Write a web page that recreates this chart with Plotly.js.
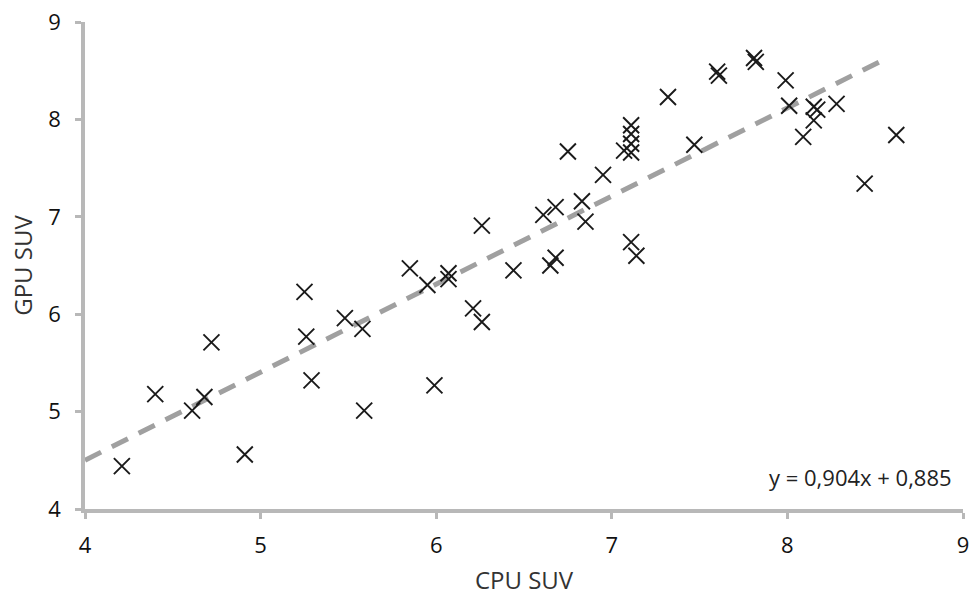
<!DOCTYPE html>
<html>
<head>
<meta charset="utf-8">
<script src="https://cdn.plot.ly/plotly-3.0.1.min.js"></script>
<style>html,body{margin:0;padding:0;background:#fff;}#chart{width:970px;height:596px;}</style>
</head>
<body>
<div id="chart"></div>
<script>
// CPU SUV vs GPU SUV measurements
const cpuSUV = [4.21,4.40,4.61,4.68,4.72,4.91,5.25,5.26,5.29,5.48,5.58,5.59,5.85,5.95,5.99,6.07,6.07,6.21,6.26,6.26,6.44,6.61,6.68,6.83,6.85,6.65,6.68,7.11,7.14,7.32,7.60,7.61,7.81,7.82,7.99,8.01,8.15,8.17,8.15,8.28,8.09,8.62,8.44,7.11,7.11,7.11,7.07,7.11,6.95,7.47,6.75];
const gpuSUV = [4.44,5.18,5.01,5.15,5.71,4.56,6.23,5.77,5.32,5.96,5.85,5.01,6.47,6.30,5.27,6.42,6.36,6.06,5.92,6.91,6.45,7.02,7.10,7.16,6.95,6.50,6.58,6.74,6.60,8.23,8.49,8.45,8.63,8.59,8.40,8.14,8.13,8.10,7.99,8.16,7.82,7.84,7.34,7.94,7.85,7.75,7.68,7.66,7.43,7.74,7.67];
// Linear fit shown on chart
const slope = 0.904;
const intercept = 0.885;
const trendX = [4, 8.53];
const trendY = trendX.map(v => slope * v + intercept);
const tickVals = [4,5,6,7,8,9];
const equationLabel = 'y = 0,904x + 0,885';

const axisColor = '#b8b8b8';
const font = "'Open Sans', 'Noto Sans', sans-serif";

Plotly.newPlot('chart', [
  {x: trendX, y: trendY, mode: 'lines', type: 'scatter',
   line: {color: '#a0a0a0', width: 5, dash: '18px,12px'}, hoverinfo: 'skip'},
  {x: cpuSUV, y: gpuSUV, mode: 'markers', type: 'scatter',
   marker: {symbol: 'x-thin', size: 16, color: '#1a1a1a', line: {color: '#1a1a1a', width: 1.9}}}
], {
  width: 970, height: 596,
  margin: {l: 85, r: 7, t: 22, b: 87},
  paper_bgcolor: '#fff', plot_bgcolor: '#fff',
  showlegend: false,
  font: {family: font, color: '#333'},
  xaxis: {range: [4, 9], tickvals: tickVals, showgrid: false, zeroline: false,
    showline: true, linecolor: axisColor, linewidth: 3.5,
    ticks: 'outside', ticklen: 6, tickwidth: 2.5, tickcolor: axisColor,
    ticklabelstandoff: 8,
    tickfont: {size: 22, color: '#111'},
    title: {text: 'CPU SUV', font: {size: 24, color: '#333'}, standoff: 18}},
  yaxis: {range: [4, 9], tickvals: tickVals, showgrid: false, zeroline: false,
    showline: true, linecolor: axisColor, linewidth: 3.5,
    ticks: 'outside', ticklen: 6, tickwidth: 2.5, tickcolor: axisColor,
    ticklabelstandoff: 10,
    tickfont: {size: 22, color: '#111'},
    title: {text: 'GPU SUV', font: {size: 24, color: '#333'}, standoff: 10}},
  annotations: [{text: equationLabel, xref: 'paper', yref: 'paper', x: 0.99, y: 0.065,
    xanchor: 'right', yanchor: 'middle', showarrow: false,
    font: {size: 22, color: '#222', family: font}}]
}, {displayModeBar: false});
</script>
</body>
</html>
